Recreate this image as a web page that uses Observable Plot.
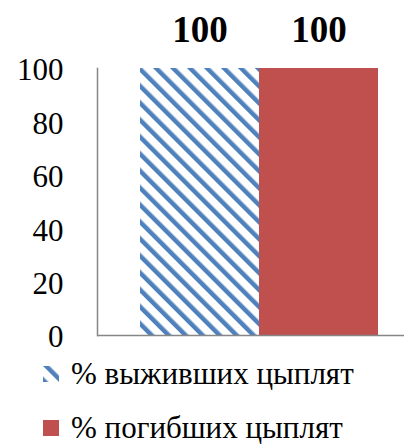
<!DOCTYPE html>
<html>
<head>
<meta charset="utf-8">
<script src="https://cdn.jsdelivr.net/npm/d3@7"></script>
<script src="https://cdn.jsdelivr.net/npm/@observablehq/plot@0.6"></script>
<style>
  html, body { margin: 0; padding: 0; background: #fff; overflow: hidden; }
  #chart { width: 404px; height: 444px; position: relative; overflow: hidden; font-family: "Liberation Serif", "Times New Roman", serif; }
  #chart svg text { font-family: "Liberation Serif", "Times New Roman", serif; }
  .legend { position: absolute; left: 42px; display: flex; align-items: center; font-size: 31px; line-height: 32px; color: #000; white-space: nowrap; }
  .legend svg { margin-right: 9px; }
</style>
</head>
<body>
<div id="chart"></div>
<script>
const series = ["% выживших цыплят", "% погибших цыплят"];
const values = [100, 100];
const yTicks = [0, 20, 40, 60, 80, 100];
const colors = ["url(#hatchBlue)", "#C0504D"];

const data = series.map((s, i) => ({series: s, value: values[i]}));

const plot = Plot.plot({
  width: 404,
  height: 360,
  marginLeft: 97,
  marginRight: 0,
  marginTop: 68,
  marginBottom: 25,
  style: {fontFamily: "'Liberation Serif', 'Times New Roman', serif", background: "transparent", overflow: "visible"},
  x: {domain: series, range: [140, 378], padding: 0, axis: null},
  y: {domain: [0, 100], ticks: yTicks, label: null},
  color: {domain: series, range: colors},
  marks: [
    Plot.barY(data, {x: "series", y: "value", fill: "series", inset: 0}),
    Plot.axisY({ticks: yTicks, tickSize: 0, tickPadding: 34, fontSize: 31, dy: 2, fill: "#000", label: null}),
    Plot.frame({anchor: "left", stroke: "#868686", strokeWidth: 1.5}),
    Plot.ruleY([0], {stroke: "#868686", strokeWidth: 1.5}),
    Plot.text(data, {x: "series", y: "value", text: d => String(d.value), dy: -38, fontSize: 37, fontWeight: "bold", fill: "#000"})
  ]
});

const defs = d3.select(plot).insert("defs", ":first-child");
const pat = defs.append("pattern")
  .attr("id", "hatchBlue").attr("patternUnits", "userSpaceOnUse")
  .attr("width", 12).attr("height", 12)
  .attr("patternTransform", "rotate(-45)");
pat.append("rect").attr("width", 12).attr("height", 12).attr("fill", "#fff");
pat.append("rect").attr("x", 0).attr("width", 4.5).attr("height", 12).attr("fill", "#4F81BD");

const chart = document.getElementById("chart");
chart.appendChild(plot);

function swatchSvg(fill) {
  const s = d3.create("svg").attr("width", 20).attr("height", 18);
  const d = s.append("defs").append("pattern")
    .attr("id", "hatchLegend").attr("patternUnits", "userSpaceOnUse")
    .attr("width", 12).attr("height", 12).attr("patternTransform", "rotate(-45)");
  d.append("rect").attr("width", 12).attr("height", 12).attr("fill", "#fff");
  d.append("rect").attr("width", 4.5).attr("height", 12).attr("fill", "#4F81BD");
  s.append("rect").attr("width", 16).attr("height", 16).attr("x", 1).attr("y", 1)
    .attr("fill", fill === colors[0] ? "url(#hatchLegend)" : fill);
  return s.node();
}

const tops = [358, 412];
series.forEach((s, i) => {
  const row = document.createElement("div");
  row.className = "legend";
  row.style.top = tops[i] + "px";
  row.appendChild(swatchSvg(colors[i]));
  const t = document.createElement("span");
  t.textContent = s;
  row.appendChild(t);
  chart.appendChild(row);
});
</script>
</body>
</html>
